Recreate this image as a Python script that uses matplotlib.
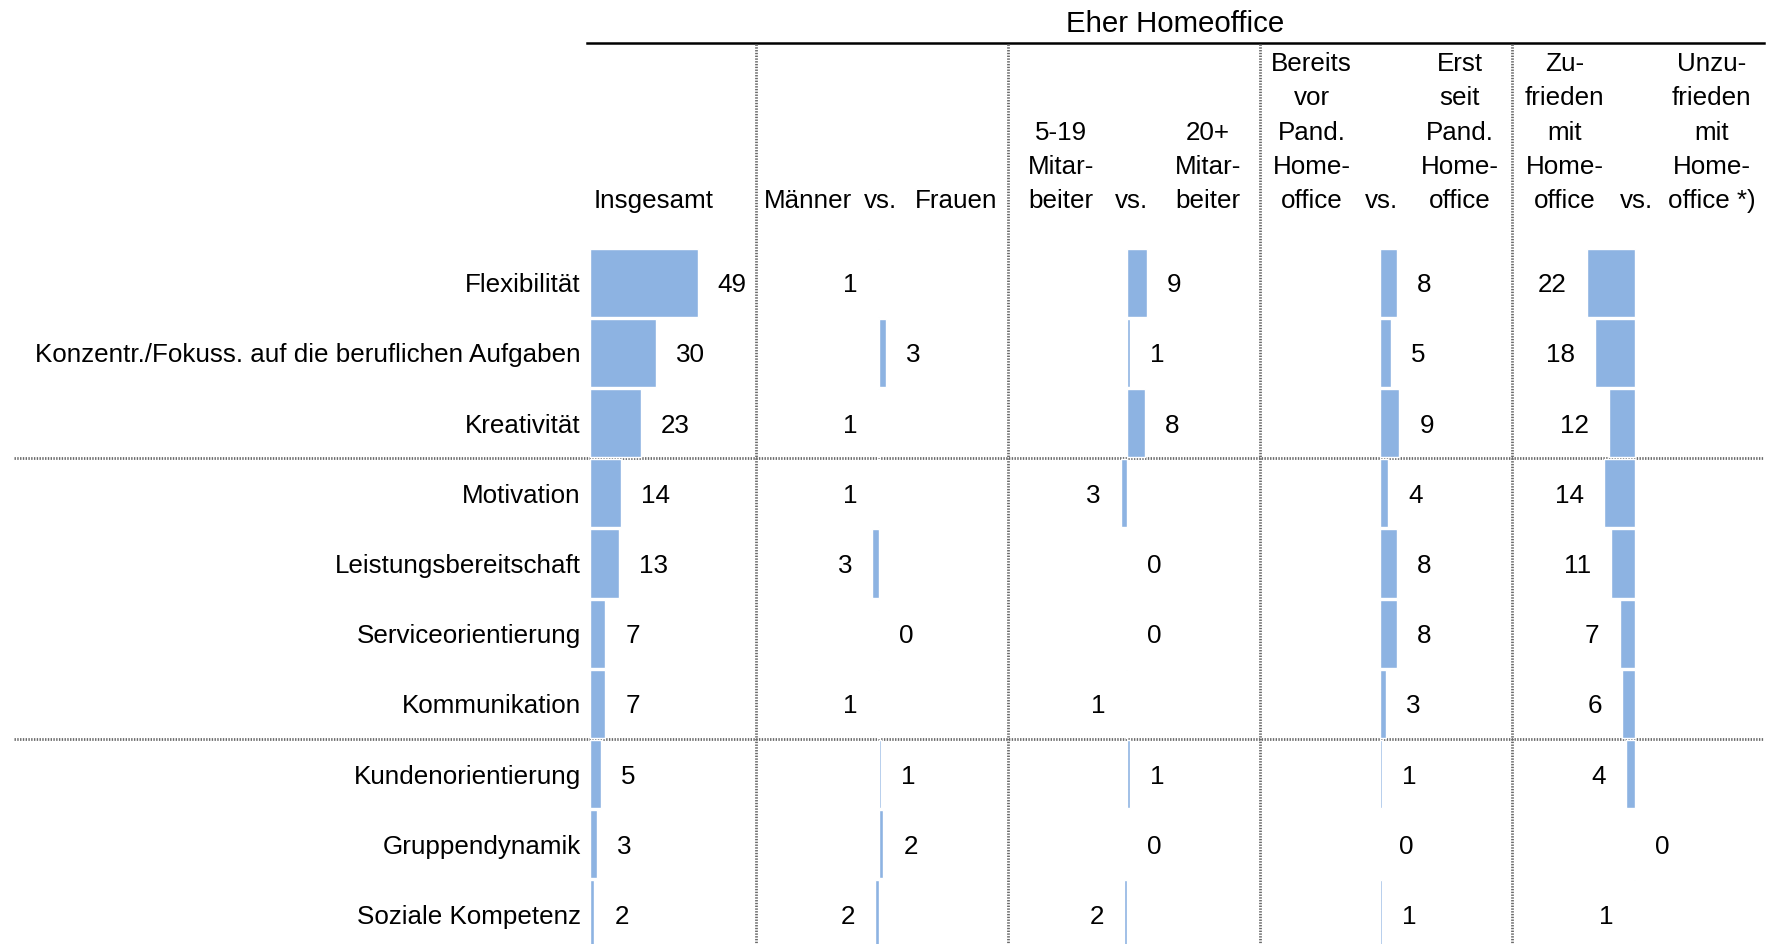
import matplotlib
matplotlib.use("Agg")
import matplotlib.pyplot as plt

plt.rcParams['font.family'] = ['Liberation Sans', 'DejaVu Sans']

# ---------------- data ----------------
categories = ["Flexibilität", "Konzentr./Fokuss. auf die beruflichen Aufgaben", "Kreativität",
              "Motivation", "Leistungsbereitschaft", "Serviceorientierung", "Kommunikation",
              "Kundenorientierung", "Gruppendynamik", "Soziale Kompetenz"]
insgesamt = [49, 30, 23, 14, 13, 7, 7, 5, 3, 2]
# differences: negative = left group higher, positive = right group higher
maenner_frauen = [-0.6, 3, -0.6, -0.6, -3, 0, -0.6, 1, 2, -1.6]
mitarbeiter = [9, 1, 8, -3, 0, 0, -0.6, 1, 0, -1.6]
pandemie = [8, 5, 9, 4, 8, 8, 3, 1, 0, 1]
zufriedenheit = [-22, -18, -12, -14, -11, -7, -6, -4, 0, -0.6]

title = "Eher Homeoffice"
header_insgesamt = ["Insgesamt"]
headers_left = [["Männer"], ["5-19", "Mitar-", "beiter"],
                ["Bereits", "vor", "Pand.", "Home-", "office"],
                ["Zu-", "frieden", "mit", "Home-", "office"]]
headers_right = [["Frauen"], ["20+", "Mitar-", "beiter"],
                 ["Erst", "seit", "Pand.", "Home-", "office"],
                 ["Unzu-", "frieden", "mit", "Home-", "office *)"]]
vs_label = "vs."

# ---------------- layout ----------------
W, H = 1773, 944
fig = plt.figure(figsize=(W / 100, H / 100), dpi=100)
FS = 18.7
BAR = "#8DB3E2"
PXU = 2.2                      # pixels per percentage point
ROW0, PITCH = 282.7, 70.2      # row centre / spacing in pixels
TOPLINE = 43
panel_edges = [587, 756.4, 1007.5, 1259.6, 1511.8, 1764]
zero_px = [590, 879, 1127.3, 1379.5, 1635]
row_top = ROW0 - PITCH / 2

bg = fig.add_axes([0, 0, 1, 1], zorder=0)
bg.set_xlim(0, W)
bg.set_ylim(H, 0)
bg.axis('off')

dot = dict(color="#6a6a6a", lw=2.0, linestyle=(0, (0.5, 0.5)))
# top rule + title
bg.plot([panel_edges[0], panel_edges[-1]], [TOPLINE, TOPLINE], color="black", lw=1.8)
bg.text((panel_edges[0] + panel_edges[-1]) / 2, 21, title, fontsize=21.2,
        ha="center", va="center_baseline")
# vertical dotted separators
for x in panel_edges[1:-1]:
    bg.plot([x, x], [TOPLINE + 1, H], **dot)
# horizontal dotted separators between groups
for r in (2.5, 6.5):
    y = ROW0 + PITCH * r
    bg.plot([14, panel_edges[-1]], [y, y], **dot)

# headers
LINE_Y0, LINE_DY = 198.5, 34.2
def header(lines, x, ha="center"):
    n = len(lines)
    for k, s in enumerate(lines):
        y = LINE_Y0 - LINE_DY * (n - 1 - k)
        bg.text(x, y, s, fontsize=FS, ha=ha, va="center_baseline")

header(header_insgesamt, 593.6, ha="left")
left_x = [808.5, 1060.6, 1311.6, 1564.9]
vs_x = [880.8, 1131.8, 1381.7, 1636]
right_x = [956, 1207.6, 1459.7, 1711.9]
for i in range(4):
    header(headers_left[i], left_x[i])
    header([vs_label], vs_x[i])
    header(headers_right[i], right_x[i])

# ---------------- panels ----------------
series = [insgesamt, maenner_frauen, mitarbeiter, pandemie, zufriedenheit]
ypos = list(range(len(categories)))
ybottom = (H - ROW0) / PITCH

for p, vals in enumerate(series):
    x0, x1 = panel_edges[p], panel_edges[p + 1]
    ax = fig.add_axes([x0 / W, 0, (x1 - x0) / W, (H - row_top) / H], zorder=1)
    ax.patch.set_visible(False)
    ax.set_xlim((x0 - zero_px[p]) / PXU, (x1 - zero_px[p]) / PXU)
    ax.set_ylim(ybottom, -0.5)
    ax.barh(ypos, vals, height=0.97, color=BAR, edgecolor="white", linewidth=1.0)
    for s in ax.spines.values():
        s.set_visible(False)
    ax.set_xticks([])
    if p == 0:
        ax.set_yticks(ypos)
        ax.set_yticklabels(categories, fontsize=FS)
        ax.tick_params(axis="y", length=0, pad=4.5)
    else:
        ax.set_yticks([])
    for y, v in zip(ypos, vals):
        lab = f"{abs(v):.0f}"
        if v < 0:
            ax.annotate(lab, (v, y), xytext=(-20, 0), textcoords="offset pixels",
                        ha="right", va="center_baseline", fontsize=FS)
        else:
            ax.annotate(lab, (v, y), xytext=(20, 0), textcoords="offset pixels",
                        ha="left", va="center_baseline", fontsize=FS)

fig.savefig("out.png", dpi=100)
